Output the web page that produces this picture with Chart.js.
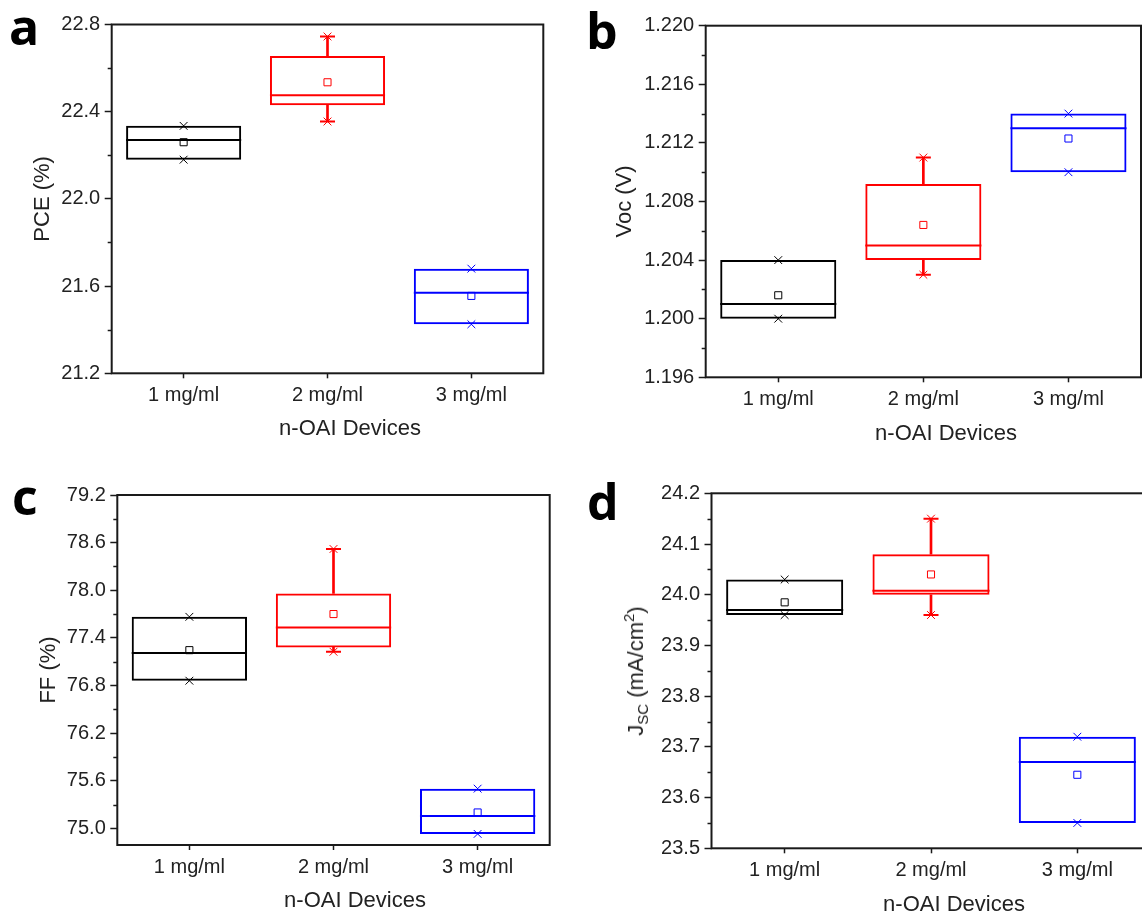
<!DOCTYPE html>
<html>
<head>
<meta charset="utf-8">
<title>n-OAI device statistics</title>
<script src="https://cdn.jsdelivr.net/npm/chart.js@4.4.1/dist/chart.umd.min.js"></script>
<style>
  html, body { margin: 0; padding: 0; background: #fff; overflow: hidden; }
  #wrap { position: relative; width: 1142px; height: 916px; overflow: hidden; }
  #wrap canvas { position: absolute; }
  .lbl { position: absolute; font-family: "Open Sans", sans-serif; font-weight: 700; font-size: 50px; line-height: 1; color: #000; }
  .xt { position: absolute; font-family: "Liberation Sans", Arial, sans-serif; font-size: 22px; line-height: 1; color: #222; white-space: nowrap; transform: translate(-50%, -50%); }
  .yt { position: absolute; font-family: "Liberation Sans", Arial, sans-serif; font-size: 22px; line-height: 1; color: #222; white-space: nowrap; transform: translate(-50%, -50%) rotate(-90deg); }
  .yt sub { font-size: 15px; vertical-align: -5px; line-height: 0; }
  .yt sup { font-size: 15px; vertical-align: 9px; line-height: 0; }
</style>
</head>
<body>
<div id="wrap">
  <canvas id="pce" width="570" height="458" style="left:0;top:0"></canvas>
  <canvas id="voc" width="590" height="458" style="left:570px;top:0"></canvas>
  <canvas id="ff" width="570" height="462" style="left:0;top:458px"></canvas>
  <canvas id="jsc" width="590" height="462" style="left:570px;top:458px"></canvas>

  <div class="lbl" style="left:9px;top:1px">a</div>
  <div class="lbl" style="left:586px;top:5px">b</div>
  <div class="lbl" style="left:12px;top:471px">c</div>
  <div class="lbl" style="left:587px;top:476px">d</div>

  <div class="xt" style="left:350px;top:428px">n-OAI Devices</div>
  <div class="xt" style="left:946px;top:433px">n-OAI Devices</div>
  <div class="xt" style="left:355px;top:900px">n-OAI Devices</div>
  <div class="xt" style="left:954px;top:904px">n-OAI Devices</div>
  <div class="yt" style="left:636px;top:671px">J<sub>SC</sub> (mA/cm<sup>2</sup>)</div>
</div>

<script>
const categories = ['1 mg/ml', '2 mg/ml', '3 mg/ml'];
const colors = ['#000000', '#ff0000', '#0000ff'];

// PCE (%)
const pceQ1 = [22.18, 22.43, 21.425];
const pceQ3 = [22.335, 22.655, 21.68];
const pceMedian = [22.27, 22.475, 21.57];
const pceMean = [22.26, 22.535, 21.555];
const pceMin = [22.18, 22.355, 21.425];
const pceMax = [22.335, 22.745, 21.68];
const pceTicks = [21.2, 21.6, 22.0, 22.4, 22.8];

// Voc (V)
const vocQ1 = [1.200, 1.204, 1.210];
const vocQ3 = [1.204, 1.2092, 1.214];
const vocMedian = [1.201, 1.205, 1.213];
const vocMean = [1.2016, 1.2064, 1.2123];
const vocMin = [1.200, 1.203, 1.210];
const vocMax = [1.204, 1.211, 1.214];
const vocTicks = [1.196, 1.200, 1.204, 1.208, 1.212, 1.216, 1.220];

// FF (%)
const ffQ1 = [76.86, 77.28, 74.93];
const ffQ3 = [77.665, 77.96, 75.50];
const ffMedian = [77.21, 77.53, 75.155];
const ffMean = [77.245, 77.70, 75.20];
const ffMin = [76.86, 77.225, 74.93];
const ffMax = [77.665, 78.52, 75.50];
const ffTicks = [75.0, 75.6, 76.2, 76.8, 77.4, 78.0, 78.6, 79.2];

// Jsc (mA/cm2)
const jscQ1 = [23.96, 24.00, 23.55];
const jscQ3 = [24.03, 24.08, 23.72];
const jscMedian = [23.97, 24.008, 23.67];
const jscMean = [23.985, 24.04, 23.645];
const jscMin = [23.96, 23.96, 23.55];
const jscMax = [24.03, 24.15, 23.72];
const jscTicks = [23.5, 23.6, 23.7, 23.8, 23.9, 24.0, 24.1, 24.2];

const FONT = '"Liberation Sans", Arial, sans-serif';
const INK = '#1a1a1a';

// frame, minor ticks and median lines
const boxExtras = {
  id: 'boxExtras',
  afterDatasetsDraw(chart, args, opts) {
    const ctx = chart.ctx;
    const y = chart.scales.y;
    const meta = chart.getDatasetMeta(0);
    ctx.save();
    ctx.lineWidth = 2;
    meta.data.forEach((bar, i) => {
      const py = y.getPixelForValue(opts.median[i]);
      ctx.strokeStyle = colors[i];
      ctx.beginPath();
      ctx.moveTo(bar.x - bar.width / 2, py);
      ctx.lineTo(bar.x + bar.width / 2, py);
      ctx.stroke();
    });
    ctx.restore();
  },
  afterDraw(chart, args, opts) {
    const ctx = chart.ctx;
    const a = chart.chartArea;
    const y = chart.scales.y;
    ctx.save();
    ctx.strokeStyle = INK;
    ctx.lineWidth = 1.5;
    const t = opts.ticks;
    for (let i = 0; i < t.length - 1; i++) {
      const py = Math.round(y.getPixelForValue((t[i] + t[i + 1]) / 2)) + 0.5;
      ctx.beginPath();
      ctx.moveTo(a.left - 4, py);
      ctx.lineTo(a.left, py);
      ctx.stroke();
    }
    ctx.lineWidth = 2;
    ctx.strokeRect(a.left, a.top, a.right - a.left, a.bottom - a.top);
    ctx.restore();
  }
};

function makePanel(id, g, s) {
  const whiskerUp = s.max.map((v, i) => v > s.q3[i] ? [s.q3[i], v] : null);
  const whiskerDown = s.min.map((v, i) => v < s.q1[i] ? [v, s.q1[i]] : null);
  const capUp = s.max.map((v, i) => v > s.q3[i] ? v : null);
  const capDown = s.min.map((v, i) => v < s.q1[i] ? v : null);
  const boxes = s.q1.map((v, i) => [v, s.q3[i]]);

  const marker = (data, style, r, w, fill, order) => ({
    type: 'line', data, showLine: false, order,
    pointStyle: style, pointRadius: r, pointHoverRadius: r,
    pointBorderWidth: w, pointBorderColor: colors,
    pointBackgroundColor: fill
  });

  new Chart(document.getElementById(id), {
    type: 'bar',
    data: {
      labels: categories,
      datasets: [
        { data: boxes, order: 5, grouped: false, borderColor: colors, backgroundColor: 'rgba(0,0,0,0)',
          borderWidth: 2, borderSkipped: false, barPercentage: 0.8, categoryPercentage: 1.0 },
        { data: whiskerUp, order: 6, grouped: false, backgroundColor: colors, barThickness: 2 },
        { data: whiskerDown, order: 6, grouped: false, backgroundColor: colors, barThickness: 2 },
        marker(capUp, 'line', 7.5, 2, colors, 2),
        marker(capDown, 'line', 7.5, 2, colors, 2),
        marker(s.max, 'crossRot', 5.5, 1, colors, 1),
        marker(s.min, 'crossRot', 5.5, 1, colors, 1),
        marker(s.mean, 'rect', 5, 1, 'rgba(255,255,255,0)', 0)
      ]
    },
    options: {
      responsive: false,
      animation: false,
      events: [],
      layout: { padding: { left: 0, top: g.top, right: g.right, bottom: 0 } },
      plugins: {
        legend: { display: false },
        tooltip: { enabled: false },
        boxExtras: { median: s.median, ticks: s.ticks }
      },
      scales: {
        x: {
          offset: true,
          afterFit: sc => { sc.height = g.xh; },
          grid: { offset: false, drawOnChartArea: false, tickLength: 5, tickColor: INK, tickWidth: 1.5 },
          border: { display: false },
          ticks: { color: '#222', font: { family: FONT, size: 20 }, padding: 5.5, autoSkip: false, maxRotation: 0 }
        },
        y: {
          min: s.min0, max: s.max0,
          afterBuildTicks: sc => { sc.ticks = s.ticks.map(v => ({ value: v })); },
          afterFit: sc => { sc.width = g.yw; },
          grid: { drawOnChartArea: false, tickLength: 7, tickColor: INK, tickWidth: 1.5 },
          border: { display: false },
          ticks: { color: '#222', font: { family: FONT, size: 20 }, padding: 4.5, autoSkip: false,
                   callback: v => Number(v).toFixed(s.dec) },
          title: { display: !!s.title, text: s.title, color: '#222', font: { family: FONT, size: 22 },
                   padding: { top: g.tp, bottom: 0 } }
        }
      }
    },
    plugins: [boxExtras]
  });
}

makePanel('pce', { top: 24.5, right: 26.7, xh: 84.7, yw: 111.7, tp: 29.8 },
  { q1: pceQ1, q3: pceQ3, median: pceMedian, mean: pceMean, min: pceMin, max: pceMax,
    ticks: pceTicks, min0: 21.2, max0: 22.8, dec: 1, title: 'PCE (%)' });

makePanel('voc', { top: 25.7, right: 19, xh: 80.7, yw: 135.7, tp: 41.3 },
  { q1: vocQ1, q3: vocQ3, median: vocMedian, mean: vocMean, min: vocMin, max: vocMax,
    ticks: vocTicks, min0: 1.196, max0: 1.220, dec: 3, title: 'Voc (V)' });

makePanel('ff', { top: 37, right: 20.3, xh: 75, yw: 117.3, tp: 35.5 },
  { q1: ffQ1, q3: ffQ3, median: ffMedian, mean: ffMean, min: ffMin, max: ffMax,
    ticks: ffTicks, min0: 74.79, max0: 79.2, dec: 1, title: 'FF (%)' });

makePanel('jsc', { top: 35.3, right: 7, xh: 71.7, yw: 141.5, tp: 0 },
  { q1: jscQ1, q3: jscQ3, median: jscMedian, mean: jscMean, min: jscMin, max: jscMax,
    ticks: jscTicks, min0: 23.5, max0: 24.2, dec: 1, title: '' });
</script>
</body>
</html>
